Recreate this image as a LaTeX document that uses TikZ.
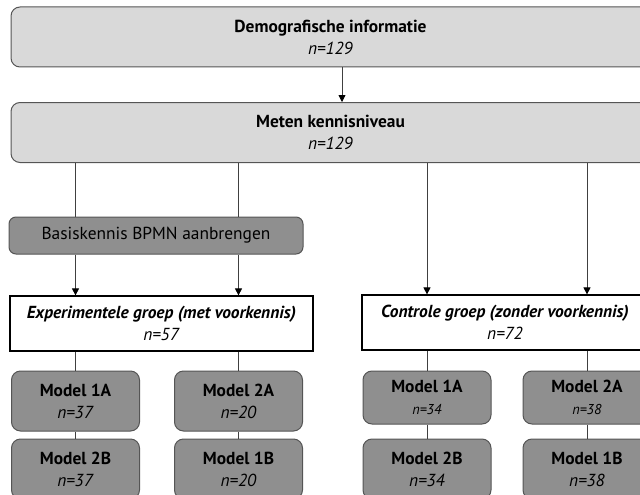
\documentclass[tikz,border=0pt]{standalone}
\usepackage{fontspec}
\setmainfont{PT Sans}
\usetikzlibrary{positioning,arrows.meta}

\definecolor{lightbox}{HTML}{D9D9D9}
\definecolor{darkbox}{HTML}{8F8F8F}
\definecolor{edgegray}{HTML}{555555}
\definecolor{linegray}{HTML}{404040}

\tikzset{
  txt/.style={font=\fontsize{17.4}{22}\selectfont},
  infobox/.style={txt,draw=edgegray,fill=lightbox,rounded corners=9pt,line width=1pt,
    minimum width=639pt,minimum height=60pt,align=center,inner sep=0pt},
  stepbox/.style={txt,draw=edgegray,fill=darkbox,rounded corners=7pt,line width=1pt,
    minimum width=294pt,minimum height=37pt,inner sep=0pt},
  groupbox/.style={txt,draw=black,fill=white,line width=1.2pt,
    minimum height=55pt,align=center,inner sep=0pt},
  modelbox/.style={txt,draw=edgegray,fill=darkbox,rounded corners=9pt,line width=1pt,
    minimum width=128pt,minimum height=60pt,align=center,inner sep=0pt},
  link/.style={draw=linegray,line width=0.8pt},
  arrow/.style={link,-{Triangle[length=7pt,width=7pt,color=black]}}
}
\newcommand{\nval}[1]{\textit{n=#1}}
\newcommand{\nsmall}[1]{{\fontsize{14.3}{18}\selectfont\textit{n=#1}}}

\begin{document}
\begin{tikzpicture}[x=1pt,y=-1pt]
  \useasboundingbox (0,0) rectangle (640,495);
  \clip (0,0) rectangle (640,495);

  \node [infobox] (demo) at (330.5,37) {\textbf{Demografische informatie}\\\nval{129}};
  \node [infobox] (meten) at (330.5,132.5) {\textbf{Meten kennisniveau}\\\nval{129}};
  \node [stepbox] (basis) at (156,235.5) {Basiskennis BPMN aanbrengen};

  \node [groupbox,minimum width=303pt] (exp) at (161.5,323.5)
    {\textbf{\textit{Experimentele groep (met voorkennis)}}\\\nval{57}};
  \node [groupbox,minimum width=286pt] (ctrl) at (505,322.5)
    {\textbf{\textit{Controle groep (zonder voorkennis)}}\\\nval{72}};

  % experimentele groep
  \node [modelbox] (e1a) at (75.5,401) {\textbf{Model 1A}\\\nval{37}};
  \node [modelbox,below=7pt of e1a] (e2b) {\textbf{Model 2B}\\\nval{37}};
  \node [modelbox] (e2a) at (238.5,401) {\textbf{Model 2A}\\\nval{20}};
  \node [modelbox,below=7pt of e2a] (e1b) {\textbf{Model 1B}\\\nval{20}};

  % controle groep
  \node [modelbox,minimum height=53pt] (c1a) at (427,397.5) {\textbf{Model 1A}\\\nsmall{34}};
  \node [modelbox,below=14pt of c1a] (c2b) {\textbf{Model 2B}\\\nval{34}};
  \node [modelbox,minimum height=53pt] (c2a) at (587,397.5) {\textbf{Model 2A}\\\nsmall{38}};
  \node [modelbox,below=14pt of c2a] (c1b) {\textbf{Model 1B}\\\nval{38}};

  \draw[arrow] (demo.south -| 342,0) -- (meten.north -| 342,0);
  \draw[link] (meten.south -| e1a) -- (basis.north -| e1a);
  \draw[link] (meten.south -| e2a) -- (basis.north -| e2a);
  \draw[arrow] (basis.south -| e1a) -- (exp.north -| e1a);
  \draw[arrow] (basis.south -| e2a) -- (exp.north -| e2a);
  \draw[arrow] (meten.south -| c1a) -- (ctrl.north -| c1a);
  \draw[arrow] (meten.south -| c2a) -- (ctrl.north -| c2a);

  \draw[link] (exp.south -| e1a) -- (e1a.north);
  \draw[link] (exp.south -| e2a) -- (e2a.north);
  \draw[link] (e1a.south) -- (e2b.north);
  \draw[link] (e2a.south) -- (e1b.north);
  \draw[link] (ctrl.south -| c1a) -- (c1a.north);
  \draw[link] (ctrl.south -| c2a) -- (c2a.north);
  \draw[link] (c1a.south) -- (c2b.north);
  \draw[link] (c2a.south) -- (c1b.north);

\end{tikzpicture}
\end{document}
